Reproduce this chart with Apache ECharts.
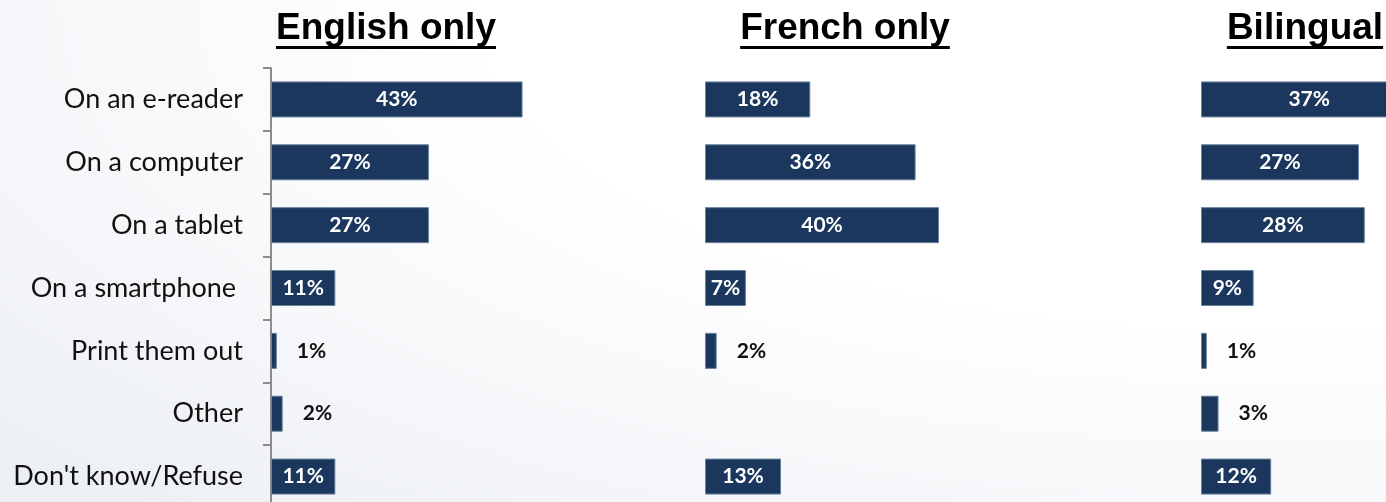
<!DOCTYPE html>
<html>
<head>
<meta charset="utf-8">
<script src="https://cdn.jsdelivr.net/npm/echarts@6/dist/echarts.min.js"></script>
<style>
  html, body { margin: 0; padding: 0; }
  #chart {
    width: 1386px; height: 502px;
    background: radial-gradient(150% 170% at 92% 0%, #ffffff 38%, #f3f5f8 66%, #e5e9ef 100%);
  }
</style>
</head>
<body>
<div id="chart"></div>
<script>
// Reading device by language group (percent of respondents)
const categories = ['On an e-reader', 'On a computer', 'On a tablet', 'On a smartphone ',
                    'Print them out', 'Other', "Don't know/Refuse"];
const panelTitles = ['English only', 'French only', 'Bilingual'];
const englishOnly = [43, 27, 27, 11, 1, 2, 11];
const frenchOnly  = [18, 36, 40, 7, 2, null, 13];
const bilingual   = [37, 27, 28, 9, 1, 3, 12];

const BAR = '#1b375e';
const CANVAS_W = 1386;
const panels = [englishOnly, frenchOnly, bilingual];
const gridLeft = [271, 705, 1201];
const titleCenter = [386, 845, 1305];
const PX_PER_PCT = 5.85;          // same value scale in every panel
const TITLE_FONT = 'bold 37px "Liberation Sans", Arial, sans-serif';

const chart = echarts.init(document.getElementById('chart'), null, { renderer: 'canvas' });

// measure title widths so the underline spans exactly the text
const ctx = document.createElement('canvas').getContext('2d');
ctx.font = TITLE_FONT;

const grids = [], xAxes = [], yAxes = [], series = [], graphics = [];
panels.forEach((vals, i) => {
  // the last panel runs into the right edge; its bars may extend past it
  const w = Math.min(50 * PX_PER_PCT, CANVAS_W - gridLeft[i]);
  // the plot area runs a little below the bottom edge (7 rows of ~62.8px)
  grids.push({ left: gridLeft[i], top: 68, width: w, height: 440,
               containLabel: false, outerBoundsMode: 'none' });
  xAxes.push({ type: 'value', gridIndex: i, min: 0, max: w / PX_PER_PCT, show: false });
  yAxes.push({
    type: 'category', gridIndex: i, data: categories, inverse: true,
    show: i === 0,
    axisLine: { show: true, lineStyle: { color: '#8c8c8c', width: 2 } },
    axisTick: { show: true, length: 8, lineStyle: { color: '#8c8c8c', width: 2 } },
    axisLabel: { margin: 28, fontFamily: 'Lato', fontSize: 27, color: '#111' }
  });
  series.push({
    type: 'bar', xAxisIndex: i, yAxisIndex: i, barWidth: 36, clip: false,
    itemStyle: { color: BAR, borderColor: '#6b819c', borderWidth: 1 },
    data: vals.map(v => {
      if (v == null) return null;
      const small = v < 5;
      return {
        value: v,
        label: small
          ? { position: 'right', distance: 20, color: '#111' }
          : { position: 'inside', color: '#ffffff' }
      };
    }),
    label: {
      show: true, formatter: p => p.value + '%',
      fontFamily: 'Lato', fontWeight: 'bold', fontSize: 21
    },
    silent: true, animation: false
  });
  const tw = ctx.measureText(panelTitles[i]).width;
  graphics.push({
    type: 'text', left: titleCenter[i] - tw / 2, top: 10,
    style: { text: panelTitles[i], font: TITLE_FONT, fill: '#000' }
  });
  graphics.push({
    type: 'rect', left: titleCenter[i] - tw / 2, top: 46,
    shape: { width: tw, height: 3 }, style: { fill: '#000' }
  });
});

chart.setOption({
  backgroundColor: 'transparent',
  animation: false,
  grid: grids, xAxis: xAxes, yAxis: yAxes, series: series,
  graphic: graphics
});
</script>
</body>
</html>
